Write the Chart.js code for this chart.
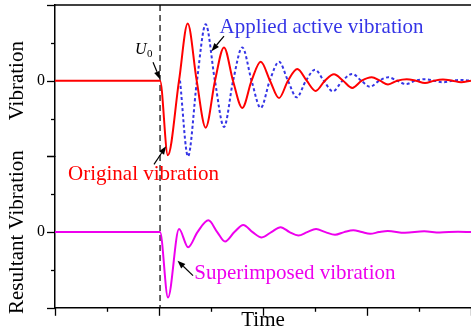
<!DOCTYPE html>
<html><head><meta charset="utf-8">
<script src="https://cdn.jsdelivr.net/npm/chart.js@4"></script>
<style>html,body{margin:0;padding:0;background:#fff}</style>
</head><body>
<canvas id="c" width="471" height="335"></canvas>
<script>
// ---- data (time in tick units, amplitude in tick units) ----
const onsetTime = 2.02;

const originalT = [0, 2.02, 2.17, 2.385, 2.552, 2.725, 2.898, 3.077, 3.25, 3.423, 3.602, 3.78, 3.956, 4.135, 4.308, 4.48, 4.66, 4.84, 5.013, 5.19, 5.365, 5.54, 5.717, 5.9, 6.09, 6.25, 6.404, 6.58, 6.763, 6.94, 7.115, 7.29, 7.46, 7.64, 7.81, 8];
const originalV = [0, 0, -1.97, 0, 1.51, 0, -1.24, 0, 0.88, 0, -0.72, 0, 0.50, 0, -0.46, 0, 0.31, 0, -0.27, 0, 0.17, 0, -0.19, 0, 0.09, 0, -0.10, 0, 0.04, 0, -0.06, 0, 0.03, 0, -0.04, 0];

const appliedT = [2.404, 2.558, 2.73, 2.898, 3.075, 3.25, 3.425, 3.602, 3.78, 3.956, 4.13, 4.308, 4.48, 4.648, 4.825, 5.0, 5.17, 5.34, 5.53, 5.717, 5.89, 6.058, 6.235, 6.41, 6.58, 6.75, 6.93, 7.115, 7.29, 7.46, 7.64, 7.81, 8];
const appliedV = [0, -2.0, 0, 1.49, 0, -1.22, 0, 0.88, 0, -0.72, 0, 0.50, 0, -0.44, 0, 0.29, 0, -0.28, 0, 0.18, 0, -0.16, 0, 0.09, 0, -0.09, 0, 0.04, 0, -0.04, 0, 0.02, 0];

const resultT = [0, 2.02, 2.173, 2.385, 2.56, 2.74, 2.95, 3.12, 3.27, 3.45, 3.62, 3.8, 3.975, 4.16, 4.34, 4.51, 4.68, 4.85, 5.02, 5.2, 5.385, 5.56, 5.737, 5.9, 6.06, 6.23, 6.40, 6.73, 7.1, 7.4, 7.75, 8];
const resultV = [0, 0, -1.73, 0.08, -0.40, 0, 0.31, 0, -0.25, 0, 0.19, 0, -0.14, 0, 0.13, 0, -0.09, 0, 0.08, 0, -0.07, 0, 0.05, 0, -0.045, 0, 0.03, -0.02, 0.02, -0.01, 0.01, 0];

const yTickLabels = {0: '0'};

// ---- annotations (in data coordinates) ----
const labels = [
  {text: 'Applied active vibration', x: 3.163, y: 1.258, axis: 'yTop', color: '#3535e6'},
  {text: 'Original vibration', x: 0.25, y: -2.62, axis: 'yTop', color: '#ff0000'},
  {text: 'Superimposed vibration', x: 2.679, y: -1.242, axis: 'yBot', color: '#ee00ee'}
];
const arrows = [
  {x1: 1.885, y1: 0.49, x2: 2.019, y2: 0.04, axis: 'yTop'},
  {x1: 3.25, y1: 1.18, x2: 3.01, y2: 0.78, axis: 'yTop'},
  {x1: 1.904, y1: -2.21, x2: 2.135, y2: -1.735, axis: 'yTop'},
  {x1: 2.654, y1: -1.15, x2: 2.356, y2: -0.755, axis: 'yBot'}
];
const u0Label = {x: 1.538, y: 0.715, axis: 'yTop'};

const SERIF = '"Liberation Serif", "Times New Roman", serif';
const pts = (t, v) => t.map((x, i) => ({x, y: v[i]}));

const decor = {
  id: 'decor',
  beforeDatasetsDraw(chart) {
    const {ctx, chartArea, scales} = chart;
    const px = scales.x.getPixelForValue(onsetTime);
    ctx.save();
    ctx.strokeStyle = '#000';
    ctx.lineWidth = 1.2;
    ctx.setLineDash([6, 4]);
    ctx.beginPath();
    ctx.moveTo(px, chartArea.top);
    ctx.lineTo(px, chartArea.bottom);
    ctx.stroke();
    ctx.restore();
  },
  afterDraw(chart) {
    const {ctx, chartArea, scales} = chart;
    ctx.save();
    ctx.strokeStyle = '#000';
    ctx.lineWidth = 1.5;
    // top frame line
    ctx.beginPath();
    ctx.moveTo(chartArea.left, chartArea.top);
    ctx.lineTo(chartArea.right, chartArea.top);
    ctx.stroke();
    // tick marks (major longer)
    ctx.lineWidth = 1.3;
    const xs = scales.x;
    xs.ticks.forEach(t => {
      const p = Math.round(xs.getPixelForValue(t.value)) + 0.5;
      const len = t.value % 2 === 0 ? 8 : 4;
      ctx.beginPath(); ctx.moveTo(p, xs.top); ctx.lineTo(p, xs.top + len); ctx.stroke();
    });
    ['yTop', 'yBot'].forEach(id => {
      const s = scales[id];
      s.ticks.forEach(t => {
        const p = Math.round(s.getPixelForValue(t.value)) + 0.5;
        const len = t.value % 2 === 0 ? 8 : 4;
        ctx.beginPath(); ctx.moveTo(s.right - len, p); ctx.lineTo(s.right, p); ctx.stroke();
      });
    });
    // labels
    ctx.textBaseline = 'alphabetic';
    ctx.textAlign = 'left';
    ctx.font = '21px ' + SERIF;
    labels.forEach(l => {
      ctx.fillStyle = l.color;
      ctx.fillText(l.text, xs.getPixelForValue(l.x), scales[l.axis].getPixelForValue(l.y));
    });
    // U0
    ctx.fillStyle = '#000';
    const ux = xs.getPixelForValue(u0Label.x), uy = scales[u0Label.axis].getPixelForValue(u0Label.y);
    ctx.font = 'italic 16px ' + SERIF;
    ctx.fillText('U', ux, uy);
    const w = ctx.measureText('U').width;
    ctx.font = '11px ' + SERIF;
    ctx.fillText('0', ux + w + 0.5, uy + 3);
    // arrows
    ctx.lineWidth = 1.2;
    arrows.forEach(a => {
      const ys = scales[a.axis];
      const x1 = xs.getPixelForValue(a.x1), y1 = ys.getPixelForValue(a.y1);
      const x2 = xs.getPixelForValue(a.x2), y2 = ys.getPixelForValue(a.y2);
      const ang = Math.atan2(y2 - y1, x2 - x1);
      const hl = 8, hw = 3;
      const bx = x2 - hl * Math.cos(ang), by = y2 - hl * Math.sin(ang);
      ctx.beginPath(); ctx.moveTo(x1, y1); ctx.lineTo(bx, by); ctx.stroke();
      ctx.beginPath();
      ctx.moveTo(x2, y2);
      ctx.lineTo(bx + hw * Math.sin(ang), by - hw * Math.cos(ang));
      ctx.lineTo(bx - hw * Math.sin(ang), by + hw * Math.cos(ang));
      ctx.closePath(); ctx.fill();
    });
    ctx.restore();
  }
};

const yAxis = (title) => ({
  type: 'linear', position: 'left', stack: 'v', stackWeight: 1,
  min: -2, max: 2,
  ticks: {stepSize: 1, autoSkip: false, padding: 10, color: '#000',
    font: {family: SERIF, size: 16},
    callback: v => (yTickLabels[v] !== undefined ? yTickLabels[v] : '')},
  grid: {display: false, drawTicks: false},
  border: {display: true, color: '#000', width: 1.5},
  title: {display: true, text: title, color: '#000', font: {family: SERIF, size: 21}, padding: {top: 5, bottom: 0}},
  afterFit(s) { s.width = 55; s.paddingTop = 0; s.paddingBottom = 0; }
});

new Chart(document.getElementById('c'), {
  type: 'line',
  data: {
    datasets: [
      {label: 'Original vibration', data: pts(originalT, originalV), yAxisID: 'yTop',
       borderColor: '#ff0000', borderWidth: 2, pointRadius: 0, cubicInterpolationMode: 'monotone', order: 1},
      {label: 'Applied active vibration', data: pts(appliedT, appliedV), yAxisID: 'yTop',
       borderColor: '#3535e6', borderWidth: 2, borderDash: [3, 2.5], pointRadius: 0, cubicInterpolationMode: 'monotone', order: 2},
      {label: 'Superimposed vibration', data: pts(resultT, resultV), yAxisID: 'yBot',
       borderColor: '#ee00ee', borderWidth: 2, pointRadius: 0, cubicInterpolationMode: 'monotone', order: 1}
    ]
  },
  options: {
    responsive: false, animation: false, devicePixelRatio: 1,
    layout: {padding: {top: 5, right: 0, left: 0, bottom: 0}},
    plugins: {legend: {display: false}, tooltip: {enabled: false}},
    scales: {
      x: {type: 'linear', min: 0, max: 8,
        ticks: {stepSize: 1, display: false, autoSkip: false},
        grid: {display: false, drawTicks: false},
        border: {display: true, color: '#000', width: 1.5},
        title: {display: true, text: 'Time', color: '#000', font: {family: SERIF, size: 21}, padding: {top: 0, bottom: 2}}},
      yBot: yAxis('Resultant Vibration'),
      yTop: yAxis('Vibration')
    }
  },
  plugins: [decor]
});
</script>
</body></html>
